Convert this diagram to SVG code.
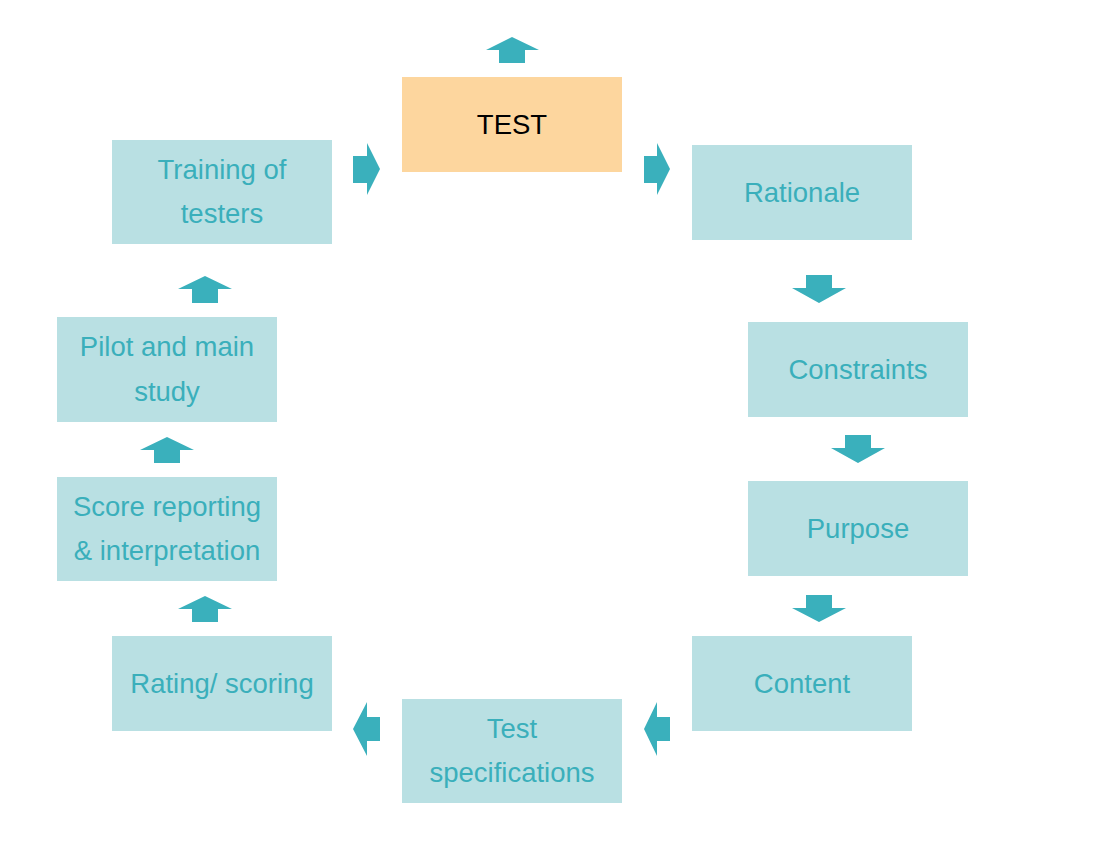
<svg xmlns="http://www.w3.org/2000/svg" width="1114" height="860" viewBox="0 0 1114 860">
<style>
.box{fill:#b9e0e3}
.test{fill:#fdd69e}
.t{font-family:"Liberation Sans",Arial,sans-serif;font-size:27.5px;fill:#3aafbb;text-anchor:middle}
.tb{fill:#000}
.arr{fill:#3ab0bc}
</style>
<rect width="1114" height="860" fill="#fff"/>
<g id="node-test"><rect class="test" x="402" y="77" width="220" height="95"/><text class="t tb" x="512" y="134">TEST</text></g>
<g id="node-rationale"><rect class="box" x="692" y="145" width="220" height="95"/><text class="t" x="802" y="202">Rationale</text></g>
<g id="node-constraints"><rect class="box" x="748" y="322" width="220" height="95"/><text class="t" x="858" y="379">Constraints</text></g>
<g id="node-purpose"><rect class="box" x="748" y="481" width="220" height="95"/><text class="t" x="858" y="538">Purpose</text></g>
<g id="node-content"><rect class="box" x="692" y="636" width="220" height="95"/><text class="t" x="802" y="693">Content</text></g>
<g id="node-testspec"><rect class="box" x="402" y="699" width="220" height="104"/><text class="t" x="512" y="738">Test</text><text class="t" x="512" y="782">specifications</text></g>
<g id="node-rating"><rect class="box" x="112" y="636" width="220" height="95"/><text class="t" x="222" y="693">Rating/ scoring</text></g>
<g id="node-score"><rect class="box" x="57" y="477" width="220" height="104"/><text class="t" x="167" y="516">Score reporting</text><text class="t" x="167" y="560">&amp; interpretation</text></g>
<g id="node-pilot"><rect class="box" x="57" y="317" width="220" height="105"/><text class="t" x="167" y="356">Pilot and main</text><text class="t" x="167" y="401">study</text></g>
<g id="node-training"><rect class="box" x="112" y="140" width="220" height="104"/><text class="t" x="222" y="179">Training of</text><text class="t" x="222" y="223">testers</text></g>
<g id="connectors">
<polygon class="arr" points="512,37 539,50 525,50 525,63 499,63 499,50 486,50"/>
<polygon class="arr" points="353,156 367,156 367,143 380,169 367,195 367,183 353,183"/>
<polygon class="arr" points="644,156 657,156 657,143 670,169 657,195 657,183 644,183"/>
<polygon class="arr" points="806,275 832,275 832,288 846,288 819,303 792,288 806,288"/>
<polygon class="arr" points="845,435 871,435 871,448 885,448 858,463 831,448 845,448"/>
<polygon class="arr" points="806,595 832,595 832,608 846,608 819,622 792,608 806,608"/>
<polygon class="arr" points="670,717 657,717 657,702 644,729 657,756 657,741 670,741"/>
<polygon class="arr" points="380,717 367,717 367,702 353,729 367,756 367,741 380,741"/>
<polygon class="arr" points="205,596 232,609 218,609 218,622 192,622 192,609 178,609"/>
<polygon class="arr" points="167,437 194,450 180,450 180,463 154,463 154,450 140,450"/>
<polygon class="arr" points="205,276 232,289 218,289 218,303 192,303 192,289 178,289"/>
</g>
</svg>
